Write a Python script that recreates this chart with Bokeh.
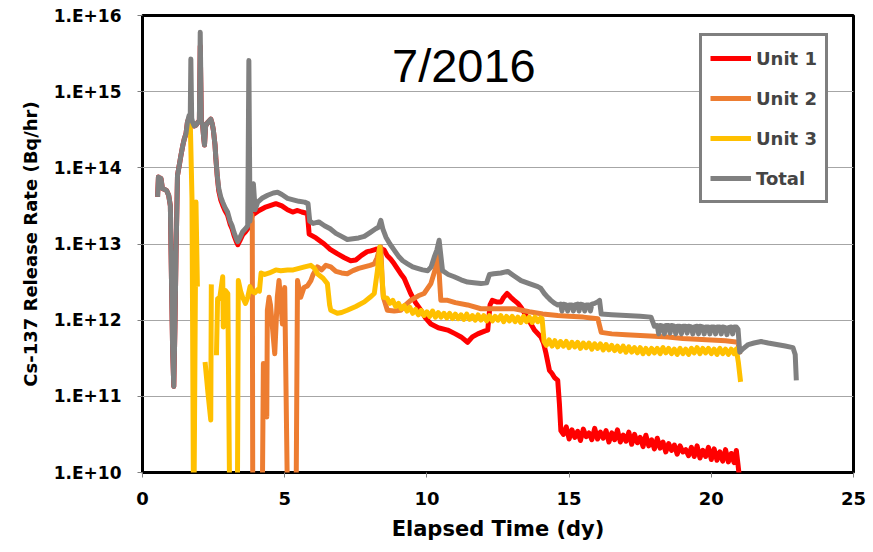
from bokeh.plotting import figure
from bokeh.models import FixedTicker, Legend, LegendItem, Label
from bokeh.embed import file_html
from bokeh.resources import INLINE

NAN = float("nan")

# ---- data (elapsed time in days, log10 of Cs-137 release rate in Bq/hr) ----
total_t = [0.53, 0.56, 0.60, 0.65, 0.70, 0.76, 0.85, 0.92, 0.98, 1.02, 1.06, 1.10, 1.14, 1.18, 1.23,
           1.30, 1.35, 1.42, 1.47, 1.53, 1.58, 1.64, 1.68, 1.70, 1.73, 1.76, 1.82, 1.88, 1.95, 2.00,
           2.03, 2.07, 2.11, 2.15, 2.18, 2.22, 2.30, 2.40, 2.45, 2.49, 2.55, 2.58, 2.63, 2.68, 2.75,
           2.82, 2.90, 2.99, 3.08, 3.15, 3.22, 3.30, 3.35, 3.42, 3.52, 3.62, 3.70, 3.74, 3.78, 3.83,
           3.90, 3.96, 4.05, 4.20, 4.40, 4.60, 4.75, 4.90, 5.10, 5.30, 5.50, 5.70, 5.82, 5.88, 6.00,
           6.20, 6.40, 6.60, 6.80, 7.00, 7.20, 7.40, 7.60, 7.80, 8.00, 8.20, 8.30, 8.38, 8.45, 8.56,
           8.70, 8.85, 9.00, 9.15, 9.32, 9.50, 9.67, 9.85, 10.03, 10.15, 10.26, 10.35, 10.43, 10.49,
           10.55, 10.75, 10.96, 11.20, 11.43, 11.65, 11.90, 12.10, 12.20, 12.35, 12.60, 12.84, 13.07,
           13.31, 13.60, 13.90, 14.00, 14.13, 14.25, 14.36, 14.50, 14.60,
           14.70, 14.75, 14.80, 14.90, 14.95, 15.00, 15.10, 15.15, 15.20, 15.30, 15.35, 15.40,
           15.50, 15.55, 15.60, 15.70, 15.75, 15.80, 15.90, 16.00,
           16.07, 16.13, 16.50, 17.00, 17.50, 17.88, 18.00,
           18.10, 18.15, 18.20, 18.30, 18.35, 18.40, 18.50, 18.55, 18.60, 18.70, 18.75, 18.80,
           18.90, 18.95, 19.00, 19.10, 19.15, 19.20, 19.30, 19.35, 19.40, 19.50, 19.55, 19.60,
           19.70, 19.75, 19.80, 19.90, 19.95, 20.00, 20.10, 20.15, 20.20, 20.30, 20.35, 20.40,
           20.50, 20.55, 20.60, 20.70, 20.75, 20.80,
           20.88, 20.94, 21.00, 21.10, 21.30, 21.50, 21.75, 22.00, 22.30,
           22.60, 22.87, 22.95, 22.99]
total_log = [13.62, 13.88, 13.84, 13.86, 13.73, 13.72, 13.70, 13.64, 13.50, 12.50, 11.60, 11.13, 11.90, 12.90, 13.90,
             14.05, 14.16, 14.30, 14.38, 14.45, 14.60, 14.69, 14.70, 15.43, 14.65, 14.60, 14.55, 14.56, 14.60, 14.62,
             15.78, 14.60, 14.58, 14.40, 14.30, 14.55, 14.60, 14.64, 14.58, 14.50, 14.30, 14.12, 13.90, 13.73, 13.62,
             13.55, 13.48, 13.42, 13.30, 13.24, 13.15, 13.07, 13.03, 13.08, 13.16, 13.20, 13.24, 15.41, 13.30, 13.55,
             13.79, 13.45, 13.55, 13.60, 13.64, 13.67, 13.68, 13.65, 13.60, 13.58, 13.56, 13.55, 13.53, 13.30, 13.27,
             13.29, 13.24, 13.20, 13.14, 13.10, 13.06, 13.07, 13.08, 13.10, 13.15, 13.20, 13.22, 13.31, 13.20, 13.09,
             13.00, 12.92, 12.84, 12.78, 12.74, 12.70, 12.68, 12.66, 12.65, 12.70, 12.83, 12.92, 13.05, 12.85,
             12.65, 12.60, 12.57, 12.53, 12.50, 12.49, 12.48, 12.49, 12.60, 12.61, 12.62, 12.64, 12.58,
             12.52, 12.48, 12.44, 12.42, 12.35, 12.30, 12.26, 12.22, 12.20,
             12.21, 12.12, 12.21, 12.20, 12.12, 12.20, 12.20, 12.12, 12.20, 12.21, 12.12, 12.21,
             12.20, 12.12, 12.20, 12.20, 12.12, 12.21, 12.22, 12.24,
             12.26, 12.08, 12.07, 12.06, 12.05, 12.04, 11.92,
             11.93, 11.82, 11.93, 11.92, 11.82, 11.93, 11.93, 11.83, 11.93, 11.92, 11.82, 11.92,
             11.92, 11.82, 11.92, 11.92, 11.83, 11.92, 11.91, 11.82, 11.91, 11.92, 11.82, 11.92,
             11.91, 11.82, 11.91, 11.91, 11.82, 11.91, 11.91, 11.82, 11.91, 11.91, 11.82, 11.91,
             11.90, 11.81, 11.90, 11.91, 11.82, 11.91,
             11.91, 11.88, 11.58, 11.62, 11.68, 11.70, 11.72, 11.70, 11.68,
             11.66, 11.64, 11.55, 11.21]

unit1_t = [0.53, 0.56, 0.60, 0.65, 0.70, 0.76, 0.85, 0.92, 0.98, 1.02, 1.06, 1.10, 1.14, 1.18, 1.23,
           1.30, 1.35, 1.42, 1.47, 1.53, 1.58, 1.64, 1.68, 1.76, 1.82, 1.88, 1.95, 2.00, 2.03, 2.07,
           2.11, 2.15, 2.18, 2.22, 2.30, 2.40, 2.45, 2.49, 2.55, 2.58, 2.63, 2.68, 2.75, 2.82, 2.90,
           2.99, 3.08, 3.15, 3.22, 3.30, 3.35, 3.42, 3.52, 3.62, 3.70, 3.87, 4.10, 4.30, 4.46, 4.69,
           4.90, 5.10, 5.28, 5.45, 5.60, 5.80, 5.86, 6.10, 6.39, 6.60, 6.86, 7.10, 7.32, 7.50, 7.70,
           7.90, 8.03, 8.20, 8.38, 8.50, 8.60, 8.73, 8.85, 9.08, 9.20, 9.43, 9.60, 9.79, 9.95, 10.14,
           10.40, 10.73, 11.00, 11.20, 11.43, 11.60, 11.79, 12.05, 12.14, 12.22, 12.30, 12.45, 12.61,
           12.70, 12.82, 12.95, 13.07, 13.20, 13.31, 13.55, 13.78, 14.01, 14.10, 14.19, 14.31, 14.40,
           14.48, 14.60, 14.66, 14.71,
           14.80, 14.90, 15.00, 15.10, 15.20, 15.30, 15.40, 15.50, 15.60, 15.70, 15.80, 15.90, 16.00,
           16.10, 16.20, 16.30, 16.40, 16.50, 16.60, 16.70, 16.80, 16.90, 17.00, 17.10, 17.20, 17.30,
           17.40, 17.50, 17.60, 17.70, 17.80, 17.90, 18.00, 18.10, 18.20, 18.30, 18.40, 18.50, 18.60,
           18.70, 18.80, 18.90, 19.00, 19.10, 19.20, 19.30, 19.40, 19.50, 19.60, 19.70, 19.80, 19.90,
           20.00, 20.10, 20.20, 20.30, 20.40, 20.50, 20.60, 20.70, 20.80, 20.88, 20.94, 21.00]
unit1_log = [13.62, 13.88, 13.84, 13.86, 13.73, 13.72, 13.70, 13.64, 13.50, 12.50, 11.60, 11.13, 11.90, 12.90, 13.90,
             14.05, 14.16, 14.30, 14.38, 14.45, 14.60, 14.66, 14.62, 14.56, 14.55, 14.56, 14.60, 14.62, 15.60, 14.60,
             14.58, 14.40, 14.30, 14.55, 14.60, 14.64, 14.58, 14.50, 14.30, 14.12, 13.88, 13.70, 13.58, 13.51, 13.44,
             13.38, 13.26, 13.20, 13.11, 13.03, 12.99, 13.04, 13.12, 13.16, 13.20, 13.38, 13.44, 13.48, 13.50, 13.53,
             13.50, 13.45, 13.42, 13.44, 13.42, 13.40, 13.13, 13.08, 13.00, 12.93, 12.87, 12.82, 12.78, 12.79, 12.85,
             12.90, 12.91, 12.93, 12.94, 12.92, 12.85, 12.80, 12.74, 12.61, 12.55, 12.35, 12.23, 12.13, 12.03, 11.95,
             11.90, 11.87, 11.82, 11.78, 11.71, 11.78, 11.82, 11.86, 11.87, 12.20, 12.26, 12.24, 12.24,
             12.30, 12.35, 12.30, 12.26, 12.22, 12.17, 12.02, 11.87, 11.78, 11.70, 11.56, 11.34, 11.30,
             11.25, 11.21, 10.90, 10.55,
             10.50, 10.60, 10.44, 10.56, 10.46, 10.54, 10.42, 10.57, 10.47, 10.52, 10.43, 10.58, 10.44,
             10.53, 10.45, 10.55, 10.40, 10.52, 10.43, 10.56, 10.40, 10.49, 10.41, 10.53, 10.37, 10.50,
             10.39, 10.46, 10.34, 10.49, 10.35, 10.43, 10.31, 10.45, 10.32, 10.40, 10.27, 10.38, 10.29,
             10.36, 10.24, 10.35, 10.27, 10.30, 10.22, 10.33, 10.21, 10.35, 10.19, 10.29, 10.21, 10.33,
             10.17, 10.31, 10.16, 10.27, 10.15, 10.30, 10.14, 10.25, 10.13, 10.29, 10.10, 9.90]

unit2_t = [3.84, 3.86, 3.88, 4.20, 4.25, 4.37, 4.39, 4.45, 4.50, 4.65, 4.74, 4.80, 4.92, 5.00, 5.12,
           5.39, 5.45, 5.56, 5.68, 5.80, 5.92, 6.00, 6.15, 6.30, 6.45, 6.62, 6.80, 7.00, 7.20, 7.40,
           7.60, 7.80, 8.00, 8.15, 8.25, 8.32, 8.38, 8.43, 8.47, 8.61, 8.85, 9.08, 9.25, 9.43, 9.70,
           9.90, 10.14, 10.32, 10.40, 10.45, 10.49, 10.73, 11.00, 11.43, 11.90, 12.50, 13.07, 13.60,
           14.07, 14.60, 15.00, 15.50, 16.01, 16.13, 16.50, 17.00, 17.50, 18.00, 18.47, 19.00, 19.50,
           20.00, 20.50, 20.94, 21.00]
unit2_log = [13.40, 13.30, 9.00, 9.00, 11.43, 10.73, 12.13, 12.30, 12.20, 11.56, 12.30, 12.52, 11.95, 12.43, 9.00,
             9.00, 12.52, 12.30, 12.43, 12.45, 12.52, 12.60, 12.70, 12.66, 12.72, 12.70, 12.64, 12.62, 12.61, 12.65,
             12.68, 12.70, 12.72, 12.74, 12.82, 12.92, 12.96, 12.50, 12.30, 12.13, 12.12, 12.13, 12.20, 12.26, 12.32,
             12.35, 12.48, 12.70, 12.85, 12.50, 12.26, 12.26, 12.23, 12.20, 12.15, 12.15, 12.15, 12.11,
             12.08, 12.06, 12.05, 12.04, 12.02, 11.84, 11.82, 11.81, 11.80, 11.79, 11.78, 11.76, 11.75,
             11.74, 11.73, 11.71, 11.55]

unit3_t = [1.68, 1.74, 1.80, 1.88, 1.93, 1.94,
           2.20, 2.30, 2.40, 2.42, 2.43,
           2.60, 2.64, 2.72, 2.82, 2.84, 2.91, 3.00, 3.08, 3.33, 3.37, 3.45, 3.52, 3.62, 3.70, 3.78,
           3.85, 3.95, 4.05, 4.11, 4.17, 4.30, 4.46, 4.69, 4.86, 5.10, 5.30, 5.50, 5.70, 5.92, 6.05,
           6.15, 6.35, 6.50, 6.58, 6.62, 6.85, 7.00, 7.20, 7.50, 7.80, 8.00, 8.15, 8.26, 8.34, 8.40,
           8.47,
           8.6, 8.7, 8.8, 8.9, 9.0, 9.1, 9.2, 9.3, 9.4, 9.5, 9.6, 9.7, 9.8, 9.9,
           10.0, 10.1, 10.2, 10.3, 10.4, 10.5, 10.6, 10.7, 10.8, 10.9,
           11.0, 11.1, 11.2, 11.3, 11.4, 11.5, 11.6, 11.7, 11.8, 11.9,
           12.0, 12.1, 12.2, 12.3, 12.4, 12.5, 12.6, 12.7, 12.8, 12.9,
           13.0, 13.1, 13.2, 13.3, 13.4, 13.5, 13.6, 13.7, 13.8, 13.9,
           14.0, 14.05, 14.12, 14.2, 14.3, 14.4, 14.5, 14.6, 14.7, 14.8, 14.9,
           15.0, 15.1, 15.2, 15.3, 15.4, 15.5, 15.6, 15.7, 15.8, 15.9,
           16.0, 16.1, 16.2, 16.3, 16.4, 16.5, 16.6, 16.7, 16.8, 16.9,
           17.0, 17.1, 17.2, 17.3, 17.4, 17.5, 17.6, 17.7, 17.8, 17.9,
           18.0, 18.1, 18.2, 18.3, 18.4, 18.5, 18.6, 18.7, 18.8, 18.9,
           19.0, 19.1, 19.2, 19.3, 19.4, 19.5, 19.6, 19.7, 19.8, 19.9,
           20.0, 20.1, 20.2, 20.3, 20.4, 20.5, 20.6, 20.7, 20.8, 20.88, 20.95, 21.03]
unit3_log = [14.60, 13.60, 9.00, 13.55, 12.44, NAN,
             11.45, 11.05, 10.69, 12.47, NAN,
             11.54, 12.28, 12.30, 12.57, 11.91, 12.39, 12.35, 9.00, 9.00, 12.52, 12.38, 12.30, 12.22, 12.30, 12.44,
             12.38, 12.36, 12.40, 12.38, 12.62, 12.60, 12.62, 12.66, 12.65, 12.66, 12.66, 12.68, 12.70, 12.72, 12.68,
             12.61, 12.55, 12.48, 12.20, 12.13, 12.09, 12.10, 12.13, 12.18, 12.24, 12.30, 12.35, 12.65, 12.96, 12.70,
             12.30,
             12.29, 12.22, 12.26, 12.18, 12.22, 12.15, 12.19, 12.12, 12.17, 12.09, 12.14, 12.07, 12.13, 12.06,
             12.11, 12.05, 12.12, 12.04, 12.10, 12.04, 12.09, 12.03, 12.09, 12.02,
             12.08, 12.02, 12.07, 12.01, 12.08, 12.01, 12.06, 12.00, 12.07, 12.00,
             12.06, 11.99, 12.06, 11.99, 12.05, 12.00, 12.06, 11.98, 12.05, 11.99,
             12.05, 11.98, 12.04, 11.97, 12.05, 11.98, 12.04, 11.97, 12.04, 11.98,
             12.03, 12.02, 11.72, 11.67, 11.74, 11.66, 11.73, 11.65, 11.72, 11.66, 11.72,
             11.64, 11.71, 11.65, 11.71, 11.63, 11.70, 11.64, 11.70, 11.62, 11.69,
             11.63, 11.69, 11.61, 11.68, 11.61, 11.67, 11.60, 11.66, 11.59, 11.66,
             11.58, 11.65, 11.58, 11.64, 11.57, 11.64, 11.56, 11.63, 11.56, 11.63,
             11.57, 11.63, 11.56, 11.64, 11.57, 11.63, 11.56, 11.62, 11.55, 11.63,
             11.56, 11.62, 11.55, 11.63, 11.57, 11.64, 11.56, 11.63, 11.57, 11.63,
             11.56, 11.62, 11.55, 11.63, 11.56, 11.62, 11.55, 11.62, 11.56, 11.62, 11.45, 11.19]

series_names = ["Unit 1", "Unit 2", "Unit 3", "Total"]
series_colors = ["#ff0000", "#ed7d31", "#ffc000", "#808080"]

x_ticks = [0, 5, 10, 15, 20, 25]
x_tick_labels = ["0", "5", "10", "15", "20", "25"]
y_ticks = [1e10, 1e11, 1e12, 1e13, 1e14, 1e15, 1e16]
y_tick_labels = ["1.E+10", "1.E+11", "1.E+12", "1.E+13", "1.E+14", "1.E+15", "1.E+16"]

title_text = "7/2016"
x_label = "Elapsed Time (dy)"
y_label = "Cs-137 Release Rate (Bq/hr)"


def to_rate(logs):
    return [10.0 ** v for v in logs]


p = figure(width=873, height=552, y_axis_type="log",
           x_range=(0, 25), y_range=(1e10, 1e16),
           output_backend="svg", toolbar_location=None,
           min_border_left=142, min_border_right=20,
           min_border_top=15, min_border_bottom=80)
p.background_fill_color = "white"
p.border_fill_color = "white"
p.outline_line_color = "black"
p.outline_line_width = 3

renderers = []
data = [(unit1_t, unit1_log), (unit2_t, unit2_log), (unit3_t, unit3_log), (total_t, total_log)]
for (t, lg), c in zip(data, series_colors):
    r = p.line(t, to_rate(lg), line_color=c, line_width=5, line_join="round")
    renderers.append(r)

# axes
p.xaxis.ticker = FixedTicker(ticks=x_ticks)
p.xaxis.major_label_overrides = {k: v for k, v in zip(x_ticks, x_tick_labels)}
p.yaxis.ticker = FixedTicker(ticks=y_ticks)
p.yaxis.major_label_overrides = {k: v for k, v in zip(y_ticks, y_tick_labels)}

for ax in (p.xaxis[0], p.yaxis[0]):
    ax.axis_line_color = None
    ax.major_tick_in = 0
    ax.major_tick_out = 5
    ax.major_tick_line_color = "#808080"
    ax.minor_tick_line_color = None
    ax.major_label_text_font = "DejaVu Sans"
    ax.major_label_text_font_style = "bold"
    ax.major_label_text_color = "black"
    ax.axis_label_text_font = "DejaVu Sans"
    ax.axis_label_text_font_style = "bold"
    ax.axis_label_text_color = "black"

p.xaxis.major_label_text_font_size = "18px"
p.yaxis.major_label_text_font_size = "17px"
p.xaxis.major_label_standoff = 14
p.yaxis.major_label_standoff = 16
p.xaxis.axis_label = x_label
p.yaxis.axis_label = y_label
p.xaxis.axis_label_text_font_size = "21px"
p.yaxis.axis_label_text_font_size = "18px"
p.xaxis.axis_label_standoff = 9
p.yaxis.axis_label_standoff = 10

p.xgrid.visible = False
p.ygrid.ticker = FixedTicker(ticks=y_ticks)
p.ygrid.grid_line_color = "#a6a6a6"
p.ygrid.grid_line_width = 1

# in-plot title
p.add_layout(Label(x=11.3, y=10 ** 15.35, text=title_text, text_font="Liberation Sans",
                   text_font_size="47px", text_align="center", text_baseline="middle",
                   text_color="black"))

legend = Legend(items=[LegendItem(label=n, renderers=[r]) for n, r in zip(series_names, renderers)],
                location=(557, 269))
legend.border_line_color = "black"
legend.border_line_width = 3
legend.background_fill_alpha = 1
legend.padding = 8
legend.spacing = 12
legend.margin = 0
legend.glyph_width = 41
legend.glyph_height = 28
legend.label_height = 28
legend.label_standoff = 5
legend.label_text_font = "DejaVu Sans"
legend.label_text_font_style = "bold"
legend.label_text_font_size = "18px"
p.add_layout(legend)

open("out.html", "w").write(file_html(p, INLINE))
